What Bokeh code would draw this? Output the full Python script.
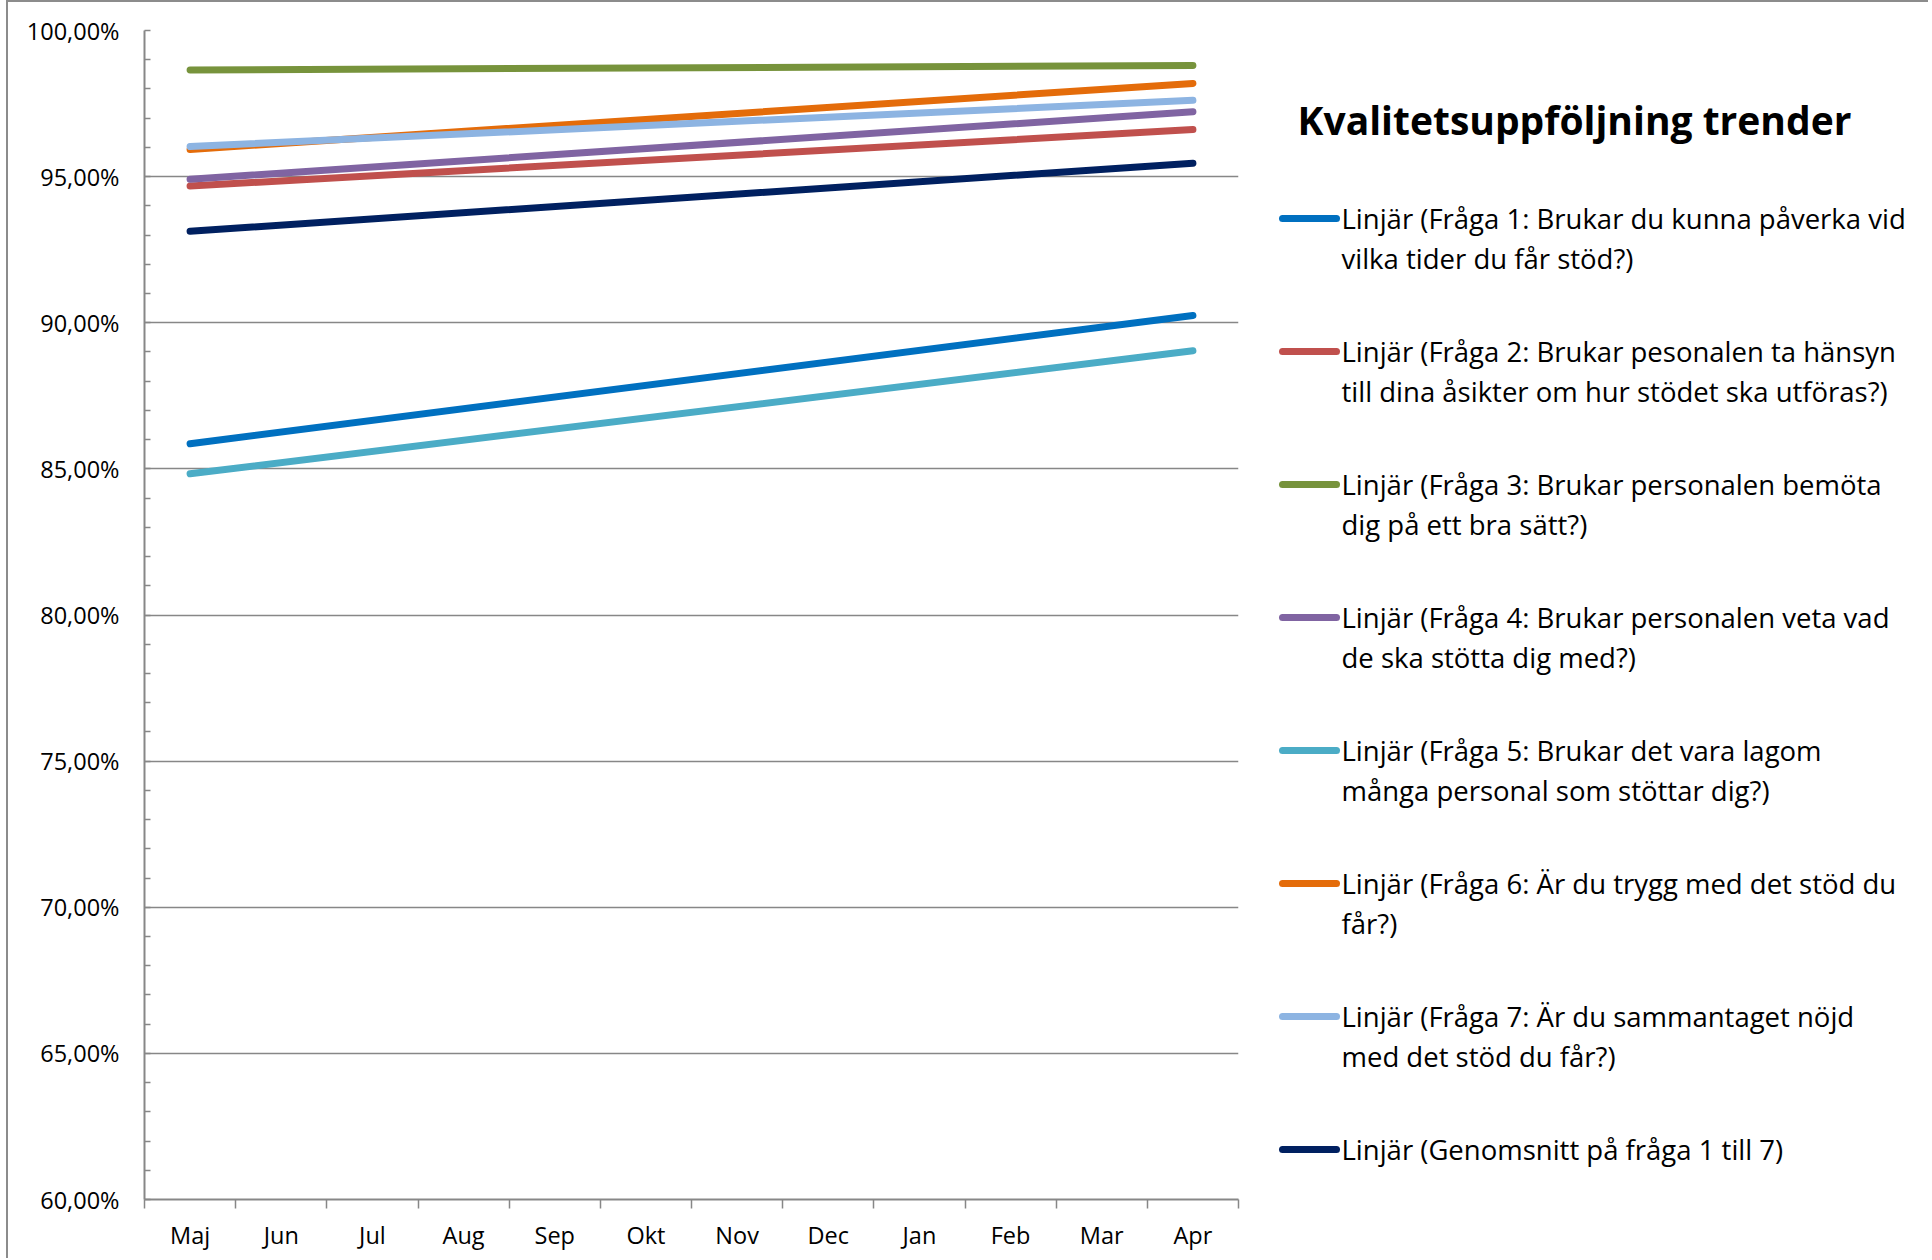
from bokeh.plotting import figure
from bokeh.layouts import row
from bokeh.models import Range1d, FixedTicker
from bokeh.embed import file_html
from bokeh.resources import INLINE
from bokeh.core.properties import value

# ---------------- data ----------------
months = ["Maj", "Jun", "Jul", "Aug", "Sep", "Okt", "Nov", "Dec", "Jan", "Feb", "Mar", "Apr"]

series_labels = [
    "Linjär (Fråga 1: Brukar du kunna påverka vid\nvilka tider du får stöd?)",
    "Linjär (Fråga 2: Brukar pesonalen ta hänsyn\ntill dina åsikter om hur stödet ska utföras?)",
    "Linjär (Fråga 3: Brukar personalen bemöta\ndig på ett bra sätt?)",
    "Linjär (Fråga 4: Brukar personalen veta vad\nde ska stötta dig med?)",
    "Linjär (Fråga 5: Brukar det vara lagom\nmånga personal som stöttar dig?)",
    "Linjär (Fråga 6: Är du trygg med det stöd du\nfår?)",
    "Linjär (Fråga 7: Är du sammantaget nöjd\nmed det stöd du får?)",
    "Linjär (Genomsnitt på fråga 1 till 7)",
]
# linear trend values (percent) at the first month (Maj) and last month (Apr)
trend_start = [85.86, 94.68, 98.65, 94.91, 84.83, 95.93, 96.03, 93.13]
trend_end = [90.25, 96.61, 98.80, 97.22, 89.04, 98.19, 97.61, 95.46]
colors = ["#0070C0", "#C0504D", "#77933C", "#8064A2", "#4BACC6", "#E46C0A", "#8DB4E2", "#002060"]

y_ticks = [60, 65, 70, 75, 80, 85, 90, 95, 100]
y_tick_labels = ["60,00%", "65,00%", "70,00%", "75,00%", "80,00%", "85,00%", "90,00%", "95,00%", "100,00%"]
title_text = "Kvalitetsuppföljning trender"

FONT = "Open Sans"
GRAY = "#878787"

# ---------------- chart ----------------
W1, H = 1260, 1256
BT, BB = 28, 59
p = figure(width=W1, height=H, output_backend="svg", toolbar_location=None,
           x_range=Range1d(0, len(months)), y_range=Range1d(60, 100),
           min_border_left=136, min_border_right=30, min_border_top=BT, min_border_bottom=BB)
p.outline_line_color = None
p.background_fill_color = "white"
p.border_fill_color = "white"

# x axis: labels at category centres, tick marks at category boundaries
x_centres = [i + 0.5 for i in range(len(months))]
p.xaxis.ticker = FixedTicker(ticks=x_centres, minor_ticks=list(range(len(months) + 1)))
p.xaxis.major_label_overrides = {c: m for c, m in zip(x_centres, months)}
p.xaxis.major_tick_in = 0
p.xaxis.major_tick_out = 0
p.xaxis.minor_tick_in = 0
p.xaxis.minor_tick_out = 9
p.xaxis.minor_tick_line_color = GRAY
p.xaxis.minor_tick_line_width = 1.5
p.xaxis.axis_line_color = GRAY
p.xaxis.axis_line_width = 2
p.xaxis.major_label_standoff = 10
p.xaxis.major_label_text_font = FONT
p.xaxis.major_label_text_font_size = "23.5px"
p.xaxis.major_label_text_color = "black"

# y axis
p.yaxis.ticker = FixedTicker(ticks=y_ticks, minor_ticks=list(range(60, 101)))
p.yaxis.major_label_overrides = {t: l for t, l in zip(y_ticks, y_tick_labels)}
p.yaxis.major_tick_in = 0
p.yaxis.major_tick_out = 0
p.yaxis.minor_tick_in = 6
p.yaxis.minor_tick_out = 0
p.yaxis.minor_tick_line_color = GRAY
p.yaxis.minor_tick_line_width = 1.5
p.yaxis.axis_line_color = GRAY
p.yaxis.axis_line_width = 2
p.yaxis.major_label_standoff = 25
p.yaxis.major_label_text_font = FONT
p.yaxis.major_label_text_font_size = "23.5px"
p.yaxis.major_label_text_color = "black"

p.xgrid.grid_line_color = None
p.ygrid.grid_line_color = GRAY
p.ygrid.grid_line_width = 1.5

x_first = months.index("Maj") + 0.5
x_last = months.index("Apr") + 0.5
for s, e, c in zip(trend_start, trend_end, colors):
    p.line(x=[x_first, x_last], y=[s, e], line_color=c, line_width=7, line_cap="round")

# ---------------- legend panel (y range = canvas pixels, frame aligned with chart) ----------------
W2 = 660
lg = figure(width=W2, height=H, output_backend="svg", toolbar_location=None,
            x_range=Range1d(0, W2), y_range=Range1d(H - BB, BT),
            x_axis_type=None, y_axis_type=None,
            min_border_left=0, min_border_right=0, min_border_top=BT, min_border_bottom=BB)
lg.outline_line_color = None
lg.grid.grid_line_color = None
lg.background_fill_color = "white"
lg.border_fill_color = "white"

lg.text(x=[306], y=[117], text=[title_text], text_font=value(FONT), text_font_style="bold",
        text_font_size="39px", text_align="center", text_baseline="middle", text_color="black")

item_y0, item_step, line_step = 216, 133.0, 39.5
sx0, sx1, tx = 14, 68, 73
tx_list, ty_list, tt_list = [], [], []
for i, (lab, c) in enumerate(zip(series_labels, colors)):
    y = item_y0 + i * item_step
    lg.line(x=[sx0, sx1], y=[y, y], line_color=c, line_width=7, line_cap="round")
    for j, part in enumerate(lab.split("\n")):
        tx_list.append(tx)
        ty_list.append(y + j * line_step)
        tt_list.append(part)
lg.text(x=tx_list, y=ty_list, text=tt_list, text_font=value(FONT), text_font_size="27.5px",
        text_align="left", text_baseline="middle", text_color="black")

layout = row(p, lg, styles={"margin-left": "6px", "border-left": "2px solid #8c8c8c",
                            "border-top": "2px solid #8c8c8c"})
open("out.html", "w").write(file_html(layout, INLINE))
